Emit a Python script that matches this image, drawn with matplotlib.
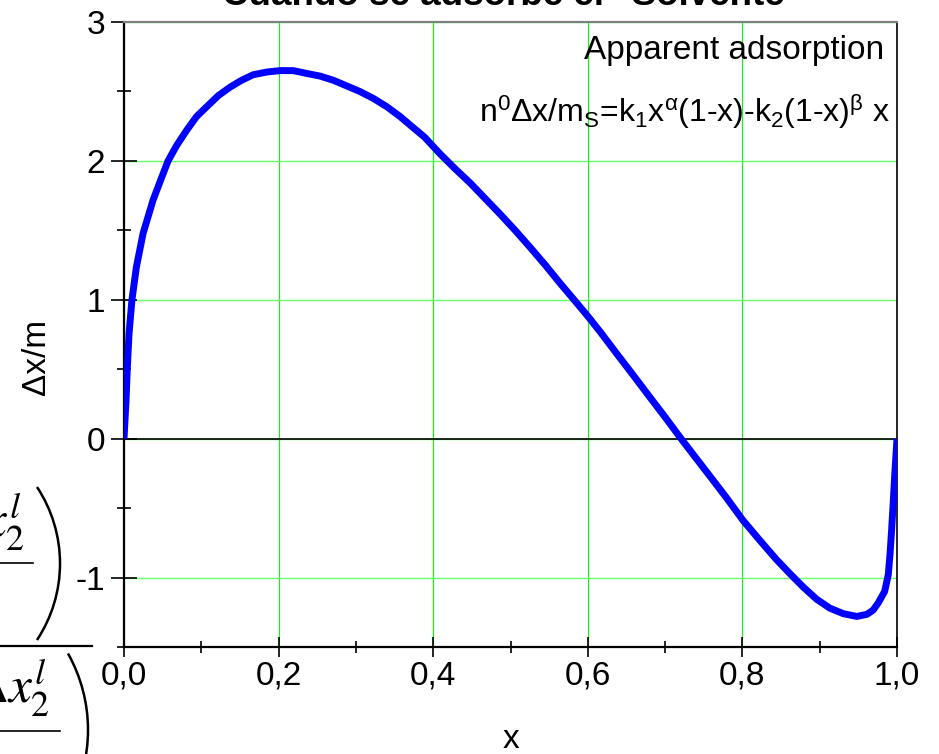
import math
import matplotlib
matplotlib.use("Agg")
import matplotlib.pyplot as plt
from matplotlib.patches import Arc
from matplotlib.lines import Line2D
from matplotlib.transforms import IdentityTransform

plt.rcParams['font.family'] = ['Liberation Sans', 'DejaVu Sans']
plt.rcParams['axes.unicode_minus'] = False
plt.rcParams['mathtext.fontset'] = 'custom'
plt.rcParams['mathtext.rm'] = 'Liberation Sans'
plt.rcParams['mathtext.it'] = 'Liberation Sans'

# curve values
x_vals = [0.0, 0.0026, 0.0043, 0.0065, 0.0103, 0.016, 0.0246, 0.0375, 0.0466, 0.057,
          0.068, 0.081, 0.094, 0.107, 0.122, 0.137, 0.152, 0.167, 0.185, 0.202,
          0.219, 0.236, 0.254, 0.271, 0.288, 0.305, 0.3225, 0.340, 0.357, 0.374,
          0.389, 0.409, 0.428, 0.448, 0.467, 0.486, 0.506, 0.525, 0.545, 0.564,
          0.583, 0.601, 0.618, 0.637, 0.657, 0.676, 0.700, 0.720, 0.7365, 0.758,
          0.780, 0.801, 0.823, 0.844, 0.862, 0.879, 0.896, 0.913, 0.9305, 0.948,
          0.961, 0.969, 0.976, 0.984, 0.9887, 0.991, 0.993, 0.995, 0.9974, 1.0]
y_vals = [0.0, 0.27, 0.51, 0.755, 1.0, 1.235, 1.476, 1.716, 1.85, 2.0,
          2.11, 2.22, 2.32, 2.39, 2.47, 2.53, 2.58, 2.62, 2.64, 2.65,
          2.65, 2.63, 2.61, 2.58, 2.54, 2.50, 2.45, 2.39, 2.32, 2.24,
          2.17, 2.05, 1.945, 1.84, 1.73, 1.62, 1.50, 1.38, 1.25, 1.12,
          0.995, 0.875, 0.755, 0.615, 0.47, 0.33, 0.155, 0.005, -0.115, -0.27,
          -0.43, -0.59, -0.735, -0.87, -0.975, -1.07, -1.156, -1.22, -1.26, -1.28,
          -1.265, -1.235, -1.18, -1.10, -0.98, -0.83, -0.66, -0.47, -0.23, 0.0]

xticks = [0.0, 0.2, 0.4, 0.6, 0.8, 1.0]
xtick_labels = ['0,0', '0,2', '0,4', '0,6', '0,8', '1,0']
yticks = [-1, 0, 1, 2, 3]
ytick_labels = ['-1', '0', '1', '2', '3']

W, H = 939, 754
fig = plt.figure(figsize=(W / 100, H / 100), dpi=100)
ax = fig.add_axes([124 / W, 1 - 647 / H, (897 - 124) / W, (647 - 22) / H])

ax.plot(x_vals, y_vals, color='#0000ff', lw=5, zorder=3,
        solid_joinstyle='round', solid_capstyle='butt')
ax.axhline(0, color='black', lw=1.2, zorder=2)

ax.set_xlim(0, 1)
ax.set_ylim(-1.5, 3)
ax.set_xticks(xticks)
ax.set_xticklabels(xtick_labels)
ax.set_xticks([0.1, 0.3, 0.5, 0.7, 0.9], minor=True)
ax.set_yticks(yticks)
ax.set_yticklabels(ytick_labels)
ax.set_yticks([-1.5, -0.5, 0.5, 1.5, 2.5], minor=True)

ax.xaxis.grid(True, color='#00ff00', lw=0.8)
ax.yaxis.grid(True, color='#66ff66', lw=1.0)
ax.set_axisbelow(True)

ax.tick_params(axis='x', which='major', direction='inout', length=14, width=1.2,
               labelsize=24, pad=3)
ax.tick_params(axis='x', which='minor', direction='inout', length=9, width=1.2)
ax.tick_params(axis='y', which='major', direction='inout', length=19, width=1.2,
               labelsize=24, pad=4)
ax.tick_params(axis='y', which='minor', direction='inout', length=10, width=1.2)

for s in ['left', 'bottom']:
    ax.spines[s].set_linewidth(1.6)
ax.spines['right'].set_linewidth(1.2)
ax.spines['top'].set_color('#808080')
ax.spines['top'].set_linewidth(1.6)

# labels
fig.text(511 / W, 1 - 748 / H, 'x', ha='center', va='baseline', fontsize=24)
fig.text(37 / W, 1 - 357 / H, '\u0394x/m', rotation=90, ha='center', va='center',
         fontsize=24)
fig.text(512 / W, 1 - 5 / H, 'Cuando se adsorbe el "Solvente"', ha='center',
         va='baseline', fontsize=26.5, fontweight='bold')

fig.text(884 / W, 1 - 59 / H, 'Apparent adsorption', ha='right', va='baseline',
         fontsize=24)
formula = 'n$^0$\u0394x/m$_S$=k$_1$x$^{\\alpha}$(1-x)-k$_2$(1-x)$^{\\beta}$ x'
fig.text(890 / W, 1 - 122 / H, formula, ha='right', va='baseline', fontsize=23)

# pieces of an equation image cut by the left edge
plt.rcParams['mathtext.fontset'] = 'stix'
fig.text(25 / W, 1 - 537 / H, r'$\Delta x_2^l$', ha='right', va='baseline', fontsize=37)
fig.text(50 / W, 1 - 703 / H, r'$\Delta x_2^l$', ha='right', va='baseline', fontsize=37)
for y0, x1, lw in [(563, 33, 1.2), (646, 92, 1.6), (731, 60, 1.2)]:
    fig.add_artist(Line2D([0, x1 / W], [1 - y0 / H, 1 - y0 / H], color='black', lw=lw))
# big closing brackets, as circular arcs in pixel units
for xm, yc, sag in [(60, 563.5, 23), (88, 730, 20)]:
    half = 76.5
    r = (half ** 2 + sag ** 2) / (2 * sag)
    ang = math.degrees(math.asin(half / r))
    fig.add_artist(Arc((xm - r, H - yc), 2 * r, 2 * r, theta1=-ang, theta2=ang,
                       color='black', lw=1.8, transform=IdentityTransform()))

fig.savefig('out.png', dpi=100)
